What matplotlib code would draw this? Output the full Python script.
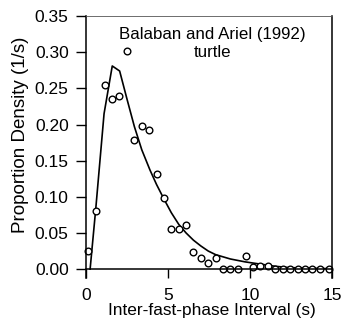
import matplotlib
matplotlib.use("Agg")
import matplotlib.pyplot as plt

interval = [0.14, 0.61, 1.14, 1.59, 2.04, 2.50, 2.95, 3.42, 3.87, 4.30,
            4.74, 5.19, 5.64, 6.10, 6.53, 6.98, 7.45, 7.90, 8.35, 8.79,
            9.24, 9.73, 10.18, 10.62, 11.07, 11.54, 11.98, 12.42, 12.90,
            13.35, 13.80, 14.28, 14.80]
density = [0.025, 0.080, 0.255, 0.235, 0.240, 0.301, 0.179, 0.198, 0.193,
           0.131, 0.099, 0.056, 0.056, 0.061, 0.024, 0.015, 0.009, 0.015,
           0.0, 0.0, 0.0, 0.018, 0.003, 0.004, 0.004, 0.0, 0.0, 0.0, 0.0,
           0.0, 0.0, 0.0, 0.0]

# fitted curve
fit_x = [0.25, 0.6, 1.1, 1.6, 2.05, 2.5, 2.95, 3.4, 3.9, 4.3, 4.75, 5.2,
         5.65, 6.1, 6.55, 7.0, 7.45, 7.9, 8.8, 9.7, 10.6, 11.5, 12.4,
         13.3, 14.2, 15.0]
fit_y = [0.0, 0.085, 0.215, 0.281, 0.274, 0.235, 0.197, 0.165, 0.137,
         0.117, 0.097, 0.078, 0.062, 0.050, 0.040, 0.032, 0.025, 0.020,
         0.014, 0.010, 0.007, 0.004, 0.002, 0.0015, 0.001, 0.0005]

plt.rcParams['font.family'] = ['Liberation Sans', 'DejaVu Sans']

fig = plt.figure(figsize=(3.42, 3.28), dpi=100)
ax = fig.add_axes([0.2515, 0.152, 0.7195, 0.799])

ax.plot(fit_x, fit_y, color='black', lw=1.2)
ax.plot(interval, density, 'o', mfc='white', mec='black', ms=4.8, mew=1.0,
        clip_on=False)

ax.set_xlim(0, 15)
ax.set_ylim(-0.0125, 0.35)
ax.set_xticks([0, 5, 10, 15])
ax.set_yticks([0, 0.05, 0.10, 0.15, 0.20, 0.25, 0.30, 0.35])
ax.set_yticklabels(['0.00', '0.05', '0.10', '0.15', '0.20', '0.25', '0.30', '0.35'])

ax.spines['bottom'].set_position(('data', 0))
for s in ['left', 'right', 'bottom']:
    ax.spines[s].set_linewidth(1.1)
ax.spines['top'].set_linewidth(0.6)
ax.spines['top'].set_color('#555555')

ax.tick_params(axis='y', direction='out', length=7.5, width=1.0, pad=5,
               labelsize=12.5)
ax.tick_params(axis='x', direction='out', length=6.5, width=1.0, pad=7,
               labelsize=12.5)

ax.set_xlabel('Inter-fast-phase Interval (s)', fontsize=12.4)
ax.xaxis.set_label_coords(0.512, -0.095)
ax.set_ylabel('Proportion Density (1/s)', fontsize=13.5)
ax.yaxis.label.set_va('center')
ax.yaxis.set_label_coords(-0.268, 0.546)

ax.text(7.7, 0.325, 'Balaban and Ariel (1992)', ha='center', va='center',
        fontsize=12.2)
ax.text(7.7, 0.299, 'turtle', ha='center', va='center', fontsize=12.2)

fig.savefig('out.png', dpi=100)
